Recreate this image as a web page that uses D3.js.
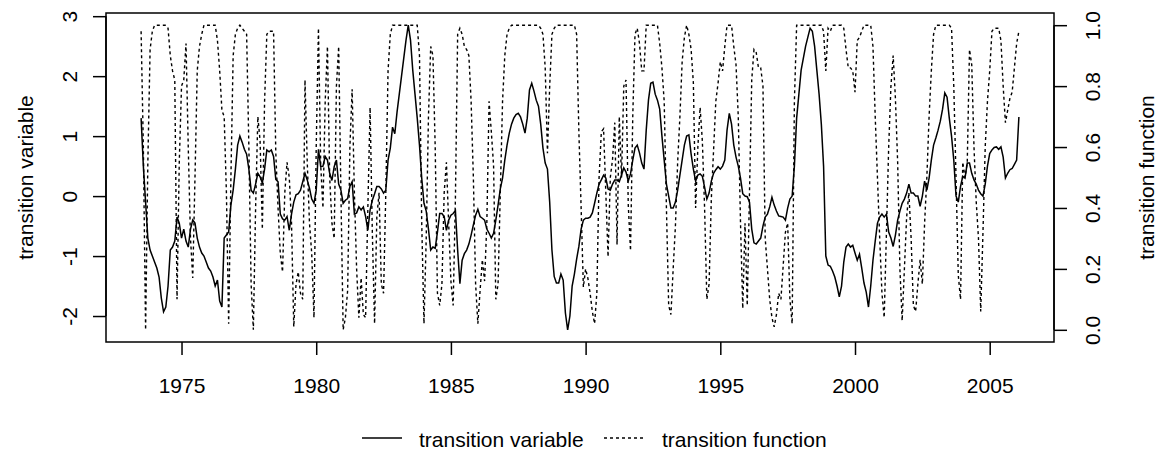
<!DOCTYPE html>
<html>
<head>
<meta charset="utf-8">
<script src="https://cdn.jsdelivr.net/npm/d3@7"></script>
<style>
  body { margin: 0; background: #fff; }
  svg text { font-family: "Liberation Sans", Arial, sans-serif; font-size: 21px; fill: #000; }
</style>
</head>
<body>
<svg id="chart" width="1157" height="455"></svg>
<script>
// monthly series, first observation July 1973
const startYear = 1973.5;
const monthsPerYear = 12;

const transitionVariable = [
  1.3, 0.5, -0.1, -0.7, -0.9, -1.0, -1.1, -1.2, -1.35, -1.7, -1.93, -1.85,
  -1.5, -0.9, -0.85, -0.75, -0.35, -0.45, -0.7, -0.55, -0.75, -0.85, -0.55, -0.4,
  -0.45, -0.7, -0.85, -0.95, -1.0, -1.1, -1.2, -1.25, -1.35, -1.5, -1.4, -1.75,
  -1.85, -0.7, -0.65, -0.6, -0.15, 0.1, 0.45, 0.85, 1.0, 0.9, 0.78, 0.7,
  0.45, 0.1, 0.05, 0.2, 0.38, 0.32, 0.22, 0.45, 0.77, 0.74, 0.77, 0.66,
  0.28, 0.24, -0.3, -0.38, -0.4, -0.34, -0.57, -0.3, -0.1, 0.02, 0.04, 0.1,
  0.24, 0.38, 0.27, 0.13, -0.05, -0.12, 0.1, 0.78, 0.49, 0.5, 0.66, 0.6,
  0.38, 0.26, 0.49, 0.6, 0.2, 0.1, -0.12, -0.07, -0.04, 0.16, 0.24, -0.3,
  -0.28, -0.18, -0.23, -0.18, -0.34, -0.57, -0.23, -0.07, 0.04, 0.16, 0.16, 0.12,
  0.05, 0.1, 0.6, 0.8, 1.15, 1.04, 1.4, 1.7, 2.0, 2.3, 2.6, 2.85,
  2.6, 2.1, 1.7, 1.3, 0.85, 0.3, -0.12, -0.25, -0.55, -0.9, -0.85, -0.87,
  -0.6, -0.29, -0.29, -0.34, -0.57, -0.4, -0.32, -0.29, -0.24, -0.9, -1.46, -1.07,
  -0.96, -0.9, -0.8, -0.65, -0.48, -0.32, -0.22, -0.34, -0.37, -0.4, -0.55, -0.62,
  -0.7, -0.62, -0.4, -0.15, 0.12, 0.3, 0.6, 0.85, 1.05, 1.2, 1.3, 1.36,
  1.38, 1.32, 1.2, 1.05, 1.3, 1.77, 1.88, 1.75, 1.6, 1.5, 1.2, 0.8,
  0.55, 0.45, -0.1, -0.9, -1.34, -1.45, -1.45, -1.3, -1.4, -1.95, -2.23, -2.0,
  -1.5, -1.3, -1.05, -0.84, -0.55, -0.4, -0.37, -0.37, -0.35, -0.28, -0.12, 0.05,
  0.2, 0.27, 0.35, 0.3, 0.12, 0.1, 0.2, 0.27, 0.27, 0.24, 0.35, 0.47,
  0.4, 0.25, 0.37, 0.6, 0.8, 0.85, 0.72, 0.55, 0.45, 1.1, 1.6, 1.88,
  1.9, 1.7, 1.6, 1.45, 1.0, 0.6, 0.2, 0.0, -0.2, -0.2, -0.1, 0.1,
  0.35, 0.6, 0.85, 1.0, 1.02, 0.7, 0.45, 0.25, 0.35, 0.37, 0.33, 0.15,
  -0.05, 0.05, 0.25, 0.38, 0.44, 0.49, 0.45, 0.5, 0.6, 1.1, 1.38, 1.2,
  0.85, 0.65, 0.5, 0.3, 0.04, 0.0, -0.01, -0.1, -0.55, -0.78, -0.8, -0.75,
  -0.7, -0.5, -0.35, -0.3, -0.18, -0.02, -0.15, -0.25, -0.33, -0.34, -0.35, -0.4,
  -0.2, -0.05, 0.0, 0.5, 1.3, 1.7, 2.1, 2.3, 2.5, 2.65, 2.8, 2.75,
  2.5, 2.1, 1.7, 1.2, 0.5, -1.0, -1.15, -1.17, -1.25, -1.35, -1.5, -1.68,
  -1.5, -1.1, -0.85, -0.8, -0.85, -0.82, -0.95, -1.07, -0.97, -1.2, -1.45, -1.6,
  -1.85, -1.5, -1.07, -0.75, -0.45, -0.35, -0.3, -0.35, -0.3, -0.6, -0.7, -0.84,
  -0.65, -0.4, -0.25, -0.12, -0.05, 0.05, 0.2, 0.05, 0.05, 0.0, 0.0, -0.17,
  0.0, 0.25, 0.1, 0.3, 0.6, 0.85, 0.97, 1.1, 1.25, 1.45, 1.72, 1.65,
  1.3, 1.0, 0.6, 0.0, -0.1, 0.16, 0.33, 0.3, 0.55, 0.55, 0.38, 0.27,
  0.2, 0.1, 0.04, 0.0, 0.2, 0.5, 0.71, 0.77, 0.81, 0.82, 0.78, 0.82,
  0.65, 0.3, 0.38, 0.44, 0.46, 0.53, 0.6, 1.32
];

const transitionFunction = [
  0.98, 0.6, 0.0, 0.55, 0.92, 0.98, 1, 1, 1, 1, 1, 1,
  0.99, 0.9, 0.85, 0.82, 0.1, 0.55, 0.8, 0.82, 0.94, 0.6, 0.3, 0.17,
  0.5, 0.85, 0.93, 0.97, 1, 1, 1, 1, 1, 1, 0.95, 0.85,
  0.72, 0.7, 0.45, 0.02, 0.5, 0.9, 0.97, 0.99, 1, 0.99, 0.98, 0.97,
  0.6, 0.15, 0.0, 0.4, 0.7, 0.62, 0.33, 0.75, 0.97, 0.98, 0.98, 0.98,
  0.58, 0.4, 0.25, 0.19, 0.45, 0.55, 0.5, 0.35, 0.01, 0.15, 0.19, 0.12,
  0.1, 0.82, 0.55, 0.35, 0.25, 0.04, 0.6, 0.99, 0.54, 0.4, 0.75, 0.93,
  0.5, 0.35, 0.3, 0.8, 0.93, 0.45, 0.0, 0.04, 0.13, 0.6, 0.79, 0.45,
  0.2, 0.04, 0.17, 0.05, 0.04, 0.4, 0.73, 0.32, 0.02, 0.37, 0.45, 0.15,
  0.12, 0.45, 0.85, 0.97, 1, 1, 1, 1, 1, 1, 1, 1,
  1, 1, 1, 1, 0.9, 0.35, 0.02, 0.3, 0.7, 0.93, 0.9, 0.6,
  0.12, 0.08, 0.15, 0.45, 0.55, 0.35, 0.16, 0.08, 0.43, 0.97, 0.99, 0.97,
  0.93, 0.92, 0.9, 0.75, 0.5, 0.15, 0.02, 0.13, 0.23, 0.16, 0.35, 0.75,
  0.65, 0.54, 0.1, 0.15, 0.45, 0.75, 0.9, 0.97, 0.99, 1, 1, 1,
  1, 1, 1, 1, 1, 1, 1, 1, 1, 1, 0.99, 0.97,
  0.86, 0.58, 0.8, 0.97, 0.99, 1, 1, 1, 1, 1, 1, 1,
  1, 1, 0.97, 0.65, 0.4, 0.14, 0.2, 0.17, 0.12, 0.06, 0.02, 0.12,
  0.5, 0.65, 0.66, 0.45, 0.24, 0.5, 0.56, 0.68, 0.28, 0.7, 0.5, 0.8,
  0.82, 0.41, 0.26, 0.7, 0.97, 0.99, 0.94, 0.85, 0.85, 1, 1, 1,
  1, 1, 1, 0.94, 0.86, 0.75, 0.4, 0.08, 0.05, 0.2, 0.34, 0.55,
  0.7, 0.88, 0.96, 1, 0.97, 0.92, 0.81, 0.4, 0.6, 0.73, 0.62, 0.4,
  0.1, 0.15, 0.43, 0.59, 0.75, 0.81, 0.88, 0.85, 0.93, 1, 1, 1,
  0.93, 0.87, 0.7, 0.35, 0.07, 0.35, 0.08, 0.45, 0.82, 0.92, 0.91, 0.86,
  0.86, 0.8, 0.3, 0.2, 0.1, 0.04, 0.01, 0.05, 0.12, 0.1, 0.21, 0.32,
  0.35, 0.1, 0.02, 0.75, 1, 1, 1, 1, 1, 1, 1, 1,
  1, 1, 1, 1, 0.98, 0.85, 0.99, 0.98, 1, 1, 1, 1,
  1, 0.99, 0.92, 0.86, 0.86, 0.85, 0.78, 0.95, 0.96, 0.98, 1, 1,
  1, 1, 0.93, 0.7, 0.5, 0.3, 0.12, 0.04, 0.32, 0.6, 0.8, 0.9,
  0.76, 0.55, 0.2, 0.03, 0.2, 0.37, 0.45, 0.3, 0.08, 0.06, 0.15, 0.23,
  0.15, 0.35, 0.5, 0.7, 0.85, 0.97, 1, 1, 1, 1, 1, 1,
  1, 0.99, 0.8, 0.5, 0.18, 0.1, 0.55, 0.5, 0.55, 0.92, 0.87, 0.6,
  0.42, 0.3, 0.06, 0.32, 0.6, 0.75, 0.85, 0.98, 0.99, 0.99, 0.99, 0.95,
  0.8, 0.68, 0.72, 0.76, 0.78, 0.86, 0.94, 0.98
];

const xTicks = [1975, 1980, 1985, 1990, 1995, 2000, 2005];
const leftTicks = [-2, -1, 0, 1, 2, 3];
const rightTicks = [0, 0.2, 0.4, 0.6, 0.8, 1.0];
const legendLabels = ["transition variable", "transition function"];

// plot region, R style
const box = { left: 106, right: 1054, top: 13, bottom: 342 };
const tickLen = 13;

const svg = d3.select("#chart");

const years = transitionVariable.map((d, i) => startYear + i / monthsPerYear);

// R pads the data range by 4% on each side
function padded(ext) {
  const d = (ext[1] - ext[0]) * 0.04;
  return [ext[0] - d, ext[1] + d];
}

const xScale = d3.scaleLinear().domain(padded(d3.extent(years))).range([box.left, box.right]);
const yLeft = d3.scaleLinear().domain(padded(d3.extent(transitionVariable))).range([box.bottom, box.top]);
const yRight = d3.scaleLinear().domain(padded([0, 1])).range([box.bottom, box.top]);

const varLine = d3.line()
  .x((d, i) => xScale(years[i]))
  .y(d => yLeft(d));

const funLine = d3.line()
  .x((d, i) => xScale(years[i]))
  .y(d => yRight(d));

svg.append("path")
  .datum(transitionVariable)
  .attr("d", varLine)
  .attr("fill", "none")
  .attr("stroke", "#000")
  .attr("stroke-width", 1.5);

svg.append("path")
  .datum(transitionFunction)
  .attr("d", funLine)
  .attr("fill", "none")
  .attr("stroke", "#000")
  .attr("stroke-width", 1.4)
  .attr("stroke-dasharray", "3,3");

// box
svg.append("rect")
  .attr("x", box.left)
  .attr("y", box.top)
  .attr("width", box.right - box.left)
  .attr("height", box.bottom - box.top)
  .attr("fill", "none")
  .attr("stroke", "#000")
  .attr("stroke-width", 1.5);

// R prints plain hyphens for negatives
const plain = d => String(d);

// x axis
const xAxis = svg.append("g")
  .attr("transform", "translate(0," + box.bottom + ")")
  .call(d3.axisBottom(xScale).tickValues(xTicks).tickSize(tickLen).tickFormat(plain));
xAxis.select(".domain").remove();
xAxis.selectAll(".tick line").attr("stroke-width", 1.5);
xAxis.selectAll(".tick text")
  .attr("y", 51).attr("dy", 0)
  .style("font-size", "21px").attr("fill", "#000");
xAxis.attr("font-family", null).attr("font-size", null);

// left axis, labels parallel to the axis
const yAxisL = svg.append("g")
  .attr("transform", "translate(" + box.left + ",0)")
  .call(d3.axisLeft(yLeft).tickValues(leftTicks).tickSize(tickLen).tickFormat(plain));
yAxisL.select(".domain").attr("d", "M0," + yLeft(-2) + "V" + yLeft(3)).attr("stroke-width", 1.5);
yAxisL.selectAll(".tick line").attr("stroke-width", 1.5);
yAxisL.selectAll(".tick text")
  .attr("x", 0).attr("y", 0).attr("dy", 0)
  .attr("text-anchor", "middle")
  .attr("transform", "translate(-29,0) rotate(-90)")
  .style("font-size", "21px").attr("fill", "#000");
yAxisL.attr("font-family", null).attr("font-size", null);

// right axis
const yAxisR = svg.append("g")
  .attr("transform", "translate(" + box.right + ",0)")
  .call(d3.axisRight(yRight).tickValues(rightTicks).tickSize(tickLen).tickFormat(d => d.toFixed(1)));
yAxisR.select(".domain").attr("d", "M0," + yRight(0) + "V" + yRight(1)).attr("stroke-width", 1.5);
yAxisR.selectAll(".tick line").attr("stroke-width", 1.5);
yAxisR.selectAll(".tick text")
  .attr("x", 0).attr("y", 0).attr("dy", 0)
  .attr("text-anchor", "middle")
  .attr("transform", "translate(46,0) rotate(-90)")
  .style("font-size", "21px").attr("fill", "#000");
yAxisR.attr("font-family", null).attr("font-size", null);

// axis titles
const midY = (box.top + box.bottom) / 2;
svg.append("text")
  .attr("text-anchor", "middle")
  .attr("transform", "translate(33," + midY + ") rotate(-90)")
  .text("transition variable");
svg.append("text")
  .attr("text-anchor", "middle")
  .attr("transform", "translate(1154," + midY + ") rotate(-90)")
  .text("transition function");

// legend below the plot
const legend = svg.append("g");
legend.append("line")
  .attr("x1", 362).attr("x2", 402).attr("y1", 438).attr("y2", 438)
  .attr("stroke", "#000").attr("stroke-width", 1.5);
legend.append("text").attr("x", 419).attr("y", 447).text(legendLabels[0]);
legend.append("line")
  .attr("x1", 604).attr("x2", 644).attr("y1", 438).attr("y2", 438)
  .attr("stroke", "#000").attr("stroke-width", 1.4).attr("stroke-dasharray", "3,3");
legend.append("text").attr("x", 662).attr("y", 447).text(legendLabels[1]);
</script>
</body>
</html>
